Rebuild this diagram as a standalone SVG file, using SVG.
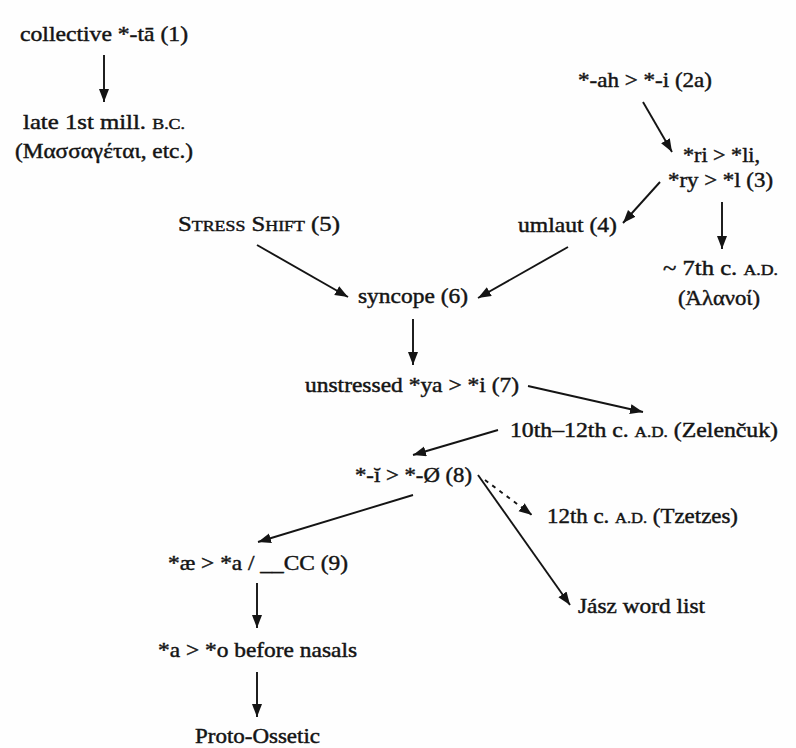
<svg xmlns="http://www.w3.org/2000/svg" width="796" height="748" viewBox="0 0 796 748">
<style>
text{font-family:"Liberation Serif","DejaVu Serif",serif;font-size:21.5px;fill:#141414;stroke:#141414;stroke-width:0.45;text-anchor:middle}
.sc{font-size:15.5px}
.c{stroke:#141414;stroke-width:1.9;fill:none;marker-end:url(#ah)}
.d{stroke-dasharray:4 5}
</style>
<defs>
<marker id="ah" markerUnits="userSpaceOnUse" markerWidth="14" markerHeight="11" refX="13" refY="5" orient="auto">
<path d="M0,0 L13,5 L0,10 z" fill="#141414"/>
</marker>
</defs>
<rect width="796" height="748" fill="#fefefe"/>
<g id="connectors">
<line class="c" x1="104" y1="55" x2="104" y2="102"/>
<line class="c" x1="643" y1="102" x2="672" y2="152"/>
<line class="c" x1="660" y1="182" x2="623" y2="223"/>
<line class="c" x1="722" y1="202" x2="722" y2="249"/>
<line class="c" x1="257" y1="245" x2="348" y2="297"/>
<line class="c" x1="568" y1="247" x2="478" y2="298"/>
<line class="c" x1="413" y1="319" x2="413" y2="365"/>
<line class="c" x1="528" y1="386" x2="643" y2="412"/>
<line class="c" x1="498" y1="430" x2="413" y2="455"/>
<line class="c d" x1="485" y1="480" x2="532" y2="515"/>
<line class="c" x1="478" y1="475" x2="570" y2="605"/>
<line class="c" x1="413" y1="495" x2="258" y2="542"/>
<line class="c" x1="257" y1="583" x2="257" y2="628"/>
<line class="c" x1="257" y1="672" x2="257" y2="717"/>
</g>
<g id="n1"><text x="104" y="41" textLength="168" lengthAdjust="spacingAndGlyphs">collective *-tā (1)</text></g>
<g id="n2">
<text x="104" y="129" textLength="162" lengthAdjust="spacingAndGlyphs">late 1st mill. <tspan class="sc">B.C.</tspan></text>
<text x="104" y="158" textLength="178" lengthAdjust="spacingAndGlyphs">(Μασσαγέται, etc.)</text>
</g>
<g id="n3"><text x="645" y="87" textLength="134" lengthAdjust="spacingAndGlyphs">*-ah &gt; *-i (2a)</text></g>
<g id="n4">
<text x="721.5" y="162" textLength="77" lengthAdjust="spacingAndGlyphs">*ri &gt; *li,</text>
<text x="720.5" y="187" textLength="105" lengthAdjust="spacingAndGlyphs">*ry &gt; *l (3)</text>
</g>
<g id="n5"><text x="567.5" y="232" textLength="99" lengthAdjust="spacingAndGlyphs">umlaut (4)</text></g>
<g id="n6">
<text x="720.5" y="275" textLength="115" lengthAdjust="spacingAndGlyphs">~ 7th c. <tspan class="sc">A.D.</tspan></text>
<text x="719" y="305" textLength="82" lengthAdjust="spacingAndGlyphs">(Ἀλανοί)</text>
</g>
<g id="n7"><text x="259" y="231" textLength="162" lengthAdjust="spacingAndGlyphs">S<tspan class="sc">TRESS</tspan> S<tspan class="sc">HIFT</tspan> (5)</text></g>
<g id="n8"><text x="413" y="303" textLength="110" lengthAdjust="spacingAndGlyphs">syncope (6)</text></g>
<g id="n9"><text x="412" y="392" textLength="214" lengthAdjust="spacingAndGlyphs">unstressed *ya &gt; *i (7)</text></g>
<g id="n10"><text x="644" y="437" textLength="268" lengthAdjust="spacingAndGlyphs">10th–12th c. <tspan class="sc">A.D.</tspan> (Zelenčuk)</text></g>
<g id="n11"><text x="413.5" y="482" textLength="117" lengthAdjust="spacingAndGlyphs">*-ĭ &gt; *-Ø (8)</text></g>
<g id="n12"><text x="642.5" y="523" textLength="191" lengthAdjust="spacingAndGlyphs">12th c. <tspan class="sc">A.D.</tspan> (Tzetzes)</text></g>
<g id="n13"><text x="641.5" y="613" textLength="127" lengthAdjust="spacingAndGlyphs">Jász word list</text></g>
<g id="n14"><text x="258" y="570" textLength="180" lengthAdjust="spacingAndGlyphs">*æ &gt; *a / __CC (9)</text></g>
<g id="n15"><text x="257.5" y="657" textLength="199" lengthAdjust="spacingAndGlyphs">*a &gt; *o before nasals</text></g>
<g id="n16"><text x="257.5" y="743" textLength="125" lengthAdjust="spacingAndGlyphs">Proto-Ossetic</text></g>
</svg>
